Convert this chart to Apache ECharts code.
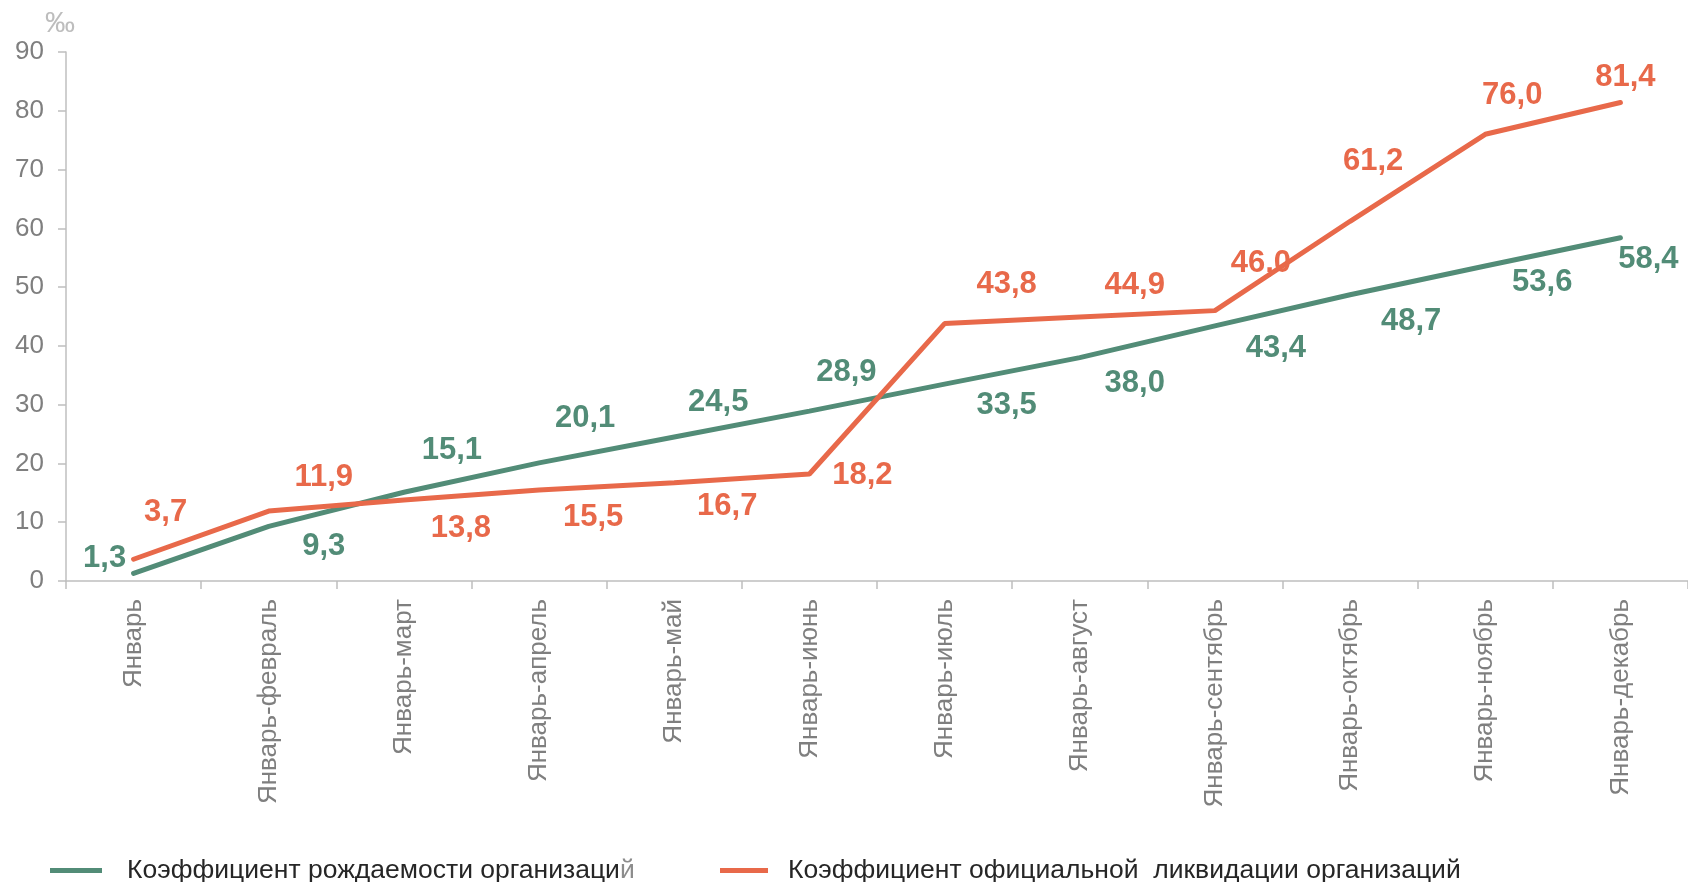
<!DOCTYPE html>
<html>
<head>
<meta charset="utf-8">
<script src="https://cdn.jsdelivr.net/npm/echarts@6/dist/echarts.min.js"></script>
<style>
    html, body { margin: 0; padding: 0; background: #fff; }
    #main { width: 1688px; height: 882px; }
</style>
</head>
<body>
<div id="main"></div>
<script>
// периоды
var categories = ['Январь', 'Январь-февраль', 'Январь-март', 'Январь-апрель', 'Январь-май', 'Январь-июнь',
    'Январь-июль', 'Январь-август', 'Январь-сентябрь', 'Январь-октябрь', 'Январь-ноябрь', 'Январь-декабрь'];
var birthName = 'Коэффициент рождаемости организаций';
var liqName = 'Коэффициент официальной  ликвидации организаций';
var birthRate = [1.3, 9.3, 15.1, 20.1, 24.5, 28.9, 33.5, 38.0, 43.4, 48.7, 53.6, 58.4];
var liqRate = [3.7, 11.9, 13.8, 15.5, 16.7, 18.2, 43.8, 44.9, 46.0, 61.2, 76.0, 81.4];
var yTicks = [0, 10, 20, 30, 40, 50, 60, 70, 80, 90];

// смещения подписей относительно точек (px)
var birthLabelOffset = [[-29, -15], [55, 20], [48, -42], [46, -44], [44, -35], [37, -39],
    [62, 21], [55, 26], [61, 23], [61, 27], [57, 17], [28, 22]];
var liqLabelOffset = [[32, -47], [55, -34], [57, 29], [54, 28], [53, 24], [53, 1],
    [62, -39], [55, -32], [46, -47], [23, -60], [27, -39], [5, -25]];

var green = '#528c77';
var orange = '#e8694a';
var font = 'Liberation Sans, Arial, sans-serif';

function buildData(values, offsets) {
    return values.map(function (v, i) {
        return { value: v, label: { offset: offsets[i] } };
    });
}

var dom = document.getElementById('main');
var myChart = echarts.init(dom);

var option = {
    animation: false,
    textStyle: { fontFamily: font },
    grid: { left: 66, right: 0, top: 52, bottom: 301 },
    legend: [
        {
            left: 45, top: 852,
            icon: 'rect', itemWidth: 52, itemHeight: 5, itemGap: 0,
            data: [birthName],
            textStyle: {
                fontSize: 26.5, color: '#262626', fontFamily: font, padding: [0, 0, 0, 20],
                rich: {
                    a: { fontSize: 26.5, color: '#262626', fontFamily: font },
                    b: { fontSize: 26.5, color: '#8c8c8c', fontFamily: font }
                }
            },
            formatter: function (name) {
                return '{a|' + name.slice(0, -1) + '}{b|' + name.slice(-1) + '}';
            }
        },
        {
            left: 715, top: 852,
            icon: 'rect', itemWidth: 48, itemHeight: 5, itemGap: 0,
            data: [liqName],
            textStyle: { fontSize: 26.5, color: '#262626', fontFamily: font, padding: [0, 0, 0, 15] }
        }
    ],
    xAxis: {
        type: 'category',
        data: categories,
        boundaryGap: true,
        axisLine: { lineStyle: { color: '#bfbfbf', width: 1.5 } },
        axisTick: { show: true, length: 8, lineStyle: { color: '#bfbfbf', width: 1.5 } },
        axisLabel: { rotate: 90, margin: 18, fontSize: 26, color: '#7f7f7f', fontFamily: font, interval: 0 }
    },
    yAxis: {
        type: 'value',
        min: yTicks[0],
        max: yTicks[yTicks.length - 1],
        interval: 10,
        name: '‰',
        nameGap: 12,
        nameTextStyle: { fontSize: 30, color: '#bdbdbd', fontFamily: font, align: 'center', padding: [0, 12, 0, 0] },
        axisLine: { show: true, lineStyle: { color: '#bfbfbf', width: 1.5 } },
        axisTick: { show: true, length: 8, lineStyle: { color: '#bfbfbf', width: 1.5 } },
        splitLine: { show: false },
        axisLabel: { margin: 22, fontSize: 26, color: '#7f7f7f', fontFamily: font }
    },
    series: [
        {
            name: birthName,
            type: 'line',
            data: buildData(birthRate, birthLabelOffset),
            symbol: 'circle',
            symbolSize: 1,
            itemStyle: { color: green },
            lineStyle: { color: green, width: 5, cap: 'round' },
            label: {
                show: true,
                position: 'inside',
                align: 'center',
                verticalAlign: 'middle',
                fontSize: 31,
                fontWeight: 'bold',
                color: green,
                fontFamily: font,
                formatter: function (p) { return p.value.toFixed(1).replace('.', ','); }
            },
            emphasis: { disabled: true },
            z: 3
        },
        {
            name: liqName,
            type: 'line',
            data: buildData(liqRate, liqLabelOffset),
            symbol: 'circle',
            symbolSize: 1,
            itemStyle: { color: orange },
            lineStyle: { color: orange, width: 5, cap: 'round' },
            label: {
                show: true,
                position: 'inside',
                align: 'center',
                verticalAlign: 'middle',
                fontSize: 31,
                fontWeight: 'bold',
                color: orange,
                fontFamily: font,
                formatter: function (p) { return p.value.toFixed(1).replace('.', ','); }
            },
            emphasis: { disabled: true },
            z: 4
        }
    ]
};

myChart.setOption(option);
</script>
</body>
</html>
